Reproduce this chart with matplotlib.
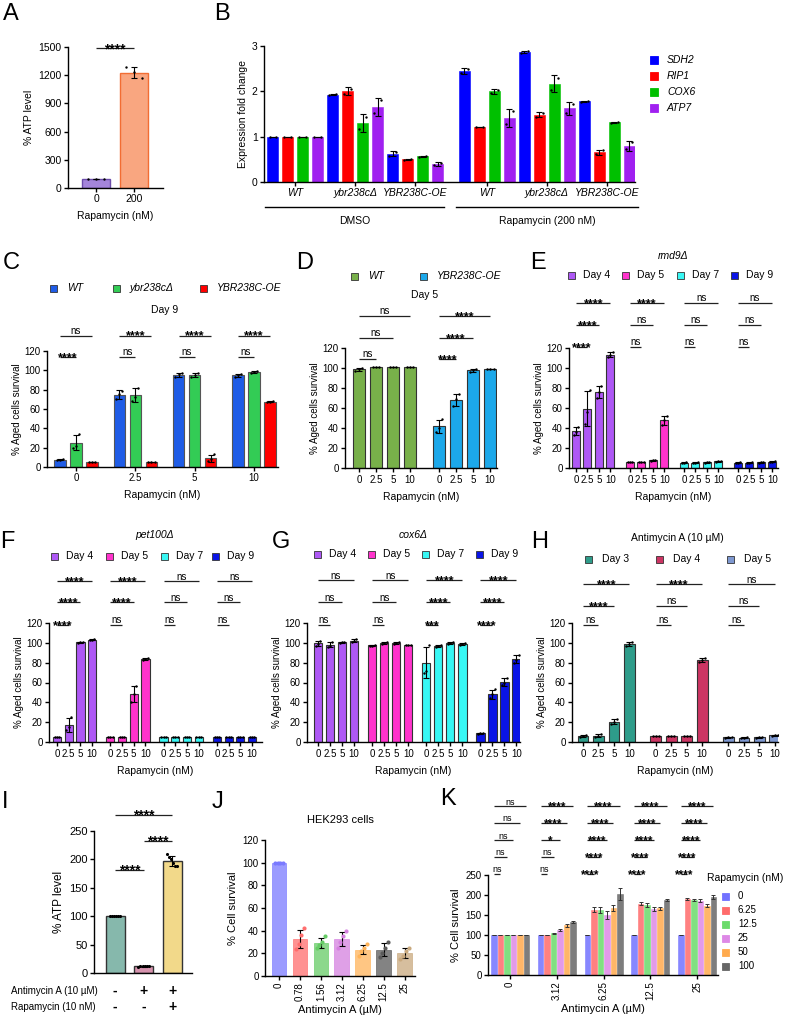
import numpy as np
import matplotlib
matplotlib.use('Agg')
import matplotlib.pyplot as plt
from matplotlib.patches import Rectangle
from matplotlib.transforms import blended_transform_factory

plt.rcParams['font.family'] = ['Liberation Sans', 'DejaVu Sans']

# ======================= DATA =======================
A_doses = ['0', '200']
A_reps = [[100, 100, 100], [1290, 1230, 1165]]
A_sig = '****'

B_genotypes = ['WT', 'ybr238cΔ', 'YBR238C-OE', 'WT', 'ybr238cΔ', 'YBR238C-OE']
B_treatments = ['DMSO', 'Rapamycin (200 nM)']
B_genes = ['SDH2', 'RIP1', 'COX6', 'ATP7']
B_SDH2 = [[1.0, 1.0], [1.92, 1.94], [0.58, 0.66], [2.40, 2.50], [2.85, 2.89], [1.77, 1.79]]
B_RIP1 = [[1.0, 1.0], [1.94, 2.06], [0.49, 0.51], [1.22, 1.22], [1.44, 1.52], [0.62, 0.70]]
B_COX6 = [[1.0, 1.0], [1.16, 1.44], [0.56, 0.58], [1.96, 2.04], [2.04, 2.30], [1.31, 1.33]]
B_ATP7 = [[1.0, 1.0], [1.52, 1.80], [0.37, 0.43], [1.28, 1.56], [1.53, 1.73], [0.72, 0.88]]

rapa_doses = ['0', '2.5', '5', '10']

C_genotypes = ['WT', 'ybr238cΔ', 'YBR238C-OE']
C_WT = [[7, 7, 8], [70, 76, 79], [93, 96, 97], [93, 95, 96]]
C_ybr = [[20, 22, 34], [68, 72, 82], [93, 95, 97], [97, 98, 99]]
C_OE = [[5, 5, 5], [5, 5, 5], [6, 8, 13], [67, 67, 68]]
C_sig = [['ns', '****', '****', '****'], ['****', 'ns', 'ns', 'ns']]

D_genotypes = ['WT', 'YBR238C-OE']
D_WT = [[97, 99, 100], [101, 101, 101], [101, 101, 101], [101, 101, 101]]
D_OE = [[36, 40, 49], [62, 69, 74], [96, 98, 99], [99, 99, 99]]
D_sig = [['ns', '****'], ['ns', '****'], ['ns', '****']]

days4 = ['Day 4', 'Day 5', 'Day 7', 'Day 9']
E_day4 = [[33, 36, 41], [44, 56, 78], [70, 76, 82], [111, 113, 116]]
E_day5 = [[6, 6, 6], [6, 6, 6], [7, 8, 8], [43, 48, 52]]
E_day7 = [[5, 5, 6], [5, 5, 6], [5, 6, 6], [6, 7, 7]]
E_day9 = [[5, 5, 6], [5, 5, 6], [5, 6, 6], [6, 6, 7]]
E_sig = [['****', '****', 'ns', 'ns'], ['****', 'ns', 'ns', 'ns'], ['****', 'ns', 'ns', 'ns']]

F_day4 = [[5, 5, 5], [12, 15, 25], [100, 101, 101], [103, 103, 104]]
F_day5 = [[5, 5, 5], [5, 5, 5], [40, 48, 56], [83, 84, 85]]
F_day7 = [[5, 5, 5], [5, 5, 5], [5, 5, 5], [5, 5, 5]]
F_day9 = [[5, 5, 5], [5, 5, 5], [5, 5, 5], [5, 5, 5]]
F_sig = [['****', '****', 'ns', 'ns'], ['****', '****', 'ns', 'ns'], ['****', 'ns', 'ns', 'ns']]

G_day4 = [[97, 99, 102], [96, 97, 101], [100, 101, 101], [101, 102, 104]]
G_day5 = [[97, 97, 98], [99, 100, 101], [99, 100, 101], [98, 98, 98]]
G_day7 = [[70, 72, 98], [96, 97, 98], [99, 100, 101], [98, 99, 100]]
G_day9 = [[8, 9, 9], [44, 48, 53], [57, 60, 65], [80, 83, 88]]
G_sig = [['ns', 'ns', '****', '****'], ['ns', 'ns', '****', '****'], ['ns', 'ns', '***', '****']]

days3 = ['Day 3', 'Day 4', 'Day 5']
H_day3 = [[5, 6, 7], [5, 6, 8], [18, 20, 23], [97, 99, 101]]
H_day4 = [[6, 6, 6], [6, 6, 6], [6, 6, 6], [81, 83, 85]]
H_day5 = [[4, 5, 5], [4, 4, 5], [4, 5, 5], [6, 7, 7]]
H_sig = [['****', '****', 'ns'], ['****', 'ns', 'ns'], ['ns', 'ns', 'ns']]

I_reps = [[100, 100, 100, 100, 100, 100], [11, 12, 12, 12, 12, 12], [210, 205, 200, 193, 188, 188]]
I_antimycin = ['-', '+', '+']
I_rapamycin = ['-', '-', '+']

J_doses = ['0', '0.78', '1.56', '3.12', '6.25', '12.5', '25']
J_reps = [[100, 100, 100, 100], [24, 28, 36, 42], [25, 27, 30, 35], [25, 30, 35, 40],
          [18, 22, 25, 28], [17, 20, 25, 30], [15, 18, 22, 25]]

K_antimycin = ['0', '3.12', '6.25', '12.5', '25']
K_rapa = ['0', '6.25', '12.5', '25', '50', '100']
K_r0 = [100, 100, 100, 100, 100]
K_r6 = [100, 100, 163, 178, 190]
K_r12 = [100, 104, 162, 175, 188]
K_r25 = [100, 113, 150, 165, 186]
K_r50 = [100, 124, 168, 167, 173]
K_r100 = [100, 132, 203, 187, 195]
K_e0 = [0, 0, 0, 0, 0]
K_e6 = [0, 1, 6, 4, 3]
K_e12 = [0, 2, 8, 5, 3]
K_e25 = [0, 2, 10, 5, 3]
K_e50 = [0, 3, 8, 4, 4]
K_e100 = [0, 3, 15, 3, 4]
K_sig = [['ns', '****', '****', '****', '****'],
         ['ns', '****', '****', '****', '****'],
         ['ns', '*', '****', '****', '****'],
         ['ns', 'ns', '****', '****', '****'],
         ['ns', 'ns', '****', '****', '****']]

# ======================= STYLE =======================
A_colors = ['#A485DA', '#F9A680']
A_edges = ['#6C4DAA', '#F26D33']
B_colors = ['#0000FF', '#FF0000', '#00C000', '#A020F0']
C_colors = ['#1F5CE6', '#33CC55', '#FF0000']
D_colors = ['#78B04A', '#1CA8EA']
day_colors = ['#AE58F5', '#FF33CC', '#38F7F4', '#0A14E6']
H_colors = ['#2E9C8A', '#CC3563', '#7E98D0']
I_colors = ['#86B8AC', '#D693AE', '#F2D98A']
J_colors = ['#7A7AFF', '#FF6E6E', '#66CC66', '#D580E0', '#FFB45A', '#5A5A5A', '#C9A97E']
K_colors = ['#7272FF', '#FF6B6B', '#6BDB6B', '#DD88E6', '#FFAA4D', '#666666']

W, H = 787, 1025
fig = plt.figure(figsize=(W / 100, H / 100), dpi=100)
FS = 7


def px_ax(x0, y0, x1, y1):
    return fig.add_axes([x0 / W, 1 - y1 / H, (x1 - x0) / W, (y1 - y0) / H])


def ftext(x, y, s, **kw):
    kw.setdefault('fontsize', FS)
    return fig.text(x / W, 1 - y / H, s, **kw)


def letter(x, y, s):
    ftext(x, y, s, fontsize=17, ha='left', va='center')


def legend_item(x, y, color, label, italic=False, size=7, fs=7.5, ec='#333333', gap=8):
    fig.add_artist(Rectangle((x / W, 1 - (y + size / 2) / H), size / W, size / H,
                             transform=fig.transFigure, facecolor=color, edgecolor=ec, lw=0.6))
    ftext(x + size + gap, y, label, va='center', ha='left', fontsize=fs,
          style='italic' if italic else 'normal')


def style(ax, fs=FS):
    ax.spines['top'].set_visible(False)
    ax.spines['right'].set_visible(False)
    for s in ['left', 'bottom']:
        ax.spines[s].set_linewidth(1.0)
    ax.tick_params(axis='both', labelsize=fs, length=3, width=1.0, pad=1.5)
    ax.patch.set_alpha(0)


def draw_bars(ax, xs, reps, color, width, ec='#333333', lw=0.8, dot='black', alpha=1.0, ds=3):
    means = [np.mean(r) for r in reps]
    sds = [np.std(r, ddof=1) if len(r) > 1 else 0 for r in reps]
    cont = ax.bar(xs, means, width, color=color, edgecolor=ec, linewidth=lw, zorder=2, alpha=alpha)
    ax.errorbar(xs, means, yerr=sds, fmt='none', ecolor='black', elinewidth=0.8,
                capsize=2, capthick=0.8, zorder=3)
    for x, r in zip(xs, reps):
        offs = np.linspace(-width * 0.28, width * 0.28, len(r))
        ax.scatter(x + offs, r, s=ds, color=dot, zorder=4, lw=0)
    return cont


def sig(ax, x1, x2, y, label, fs=7, sfs=None):
    ax.plot([x1, x2], [y, y], color='#222222', lw=0.9, clip_on=False, solid_capstyle='butt')
    if '*' in label:
        s = sfs if sfs else fs + 2
        ax.annotate(label, (0.5 * (x1 + x2), y), xytext=(0, -0.33 * s), textcoords='offset points',
                    ha='center', va='baseline', fontsize=s, fontweight='bold', annotation_clip=False)
    else:
        ax.annotate(label, (0.5 * (x1 + x2), y), xytext=(0, 1.2), textcoords='offset points',
                    ha='center', va='baseline', fontsize=fs, annotation_clip=False)


def day_panel(ax, groups, colors, stride, xlim, sig_rows, sig_y, ylabel='% Aged cells survival'):
    xs_all, labels = [], []
    for g, (reps, col) in enumerate(zip(groups, colors)):
        xs = [g * stride + i for i in range(len(reps))]
        draw_bars(ax, xs, reps, col, 0.7)
        xs_all += xs
        labels += rapa_doses
        for k, row in enumerate(sig_rows):
            sig(ax, xs[0], xs[len(reps) - 1 - k], sig_y[k], row[g])
    ax.set_xticks(xs_all)
    ax.set_xticklabels(labels)
    ax.set_xlim(*xlim)
    ax.set_ylim(0, 120)
    ax.set_yticks(range(0, 121, 20))
    ax.set_ylabel(ylabel, fontsize=FS, labelpad=2)
    ax.set_xlabel('Rapamycin (nM)', fontsize=7.5, labelpad=5)
    style(ax)
    ax.tick_params(axis='x', length=3, pad=2)


# ======================= A =======================
axA = px_ax(68, 47, 163, 188)
for i, reps in enumerate(A_reps):
    draw_bars(axA, [i], [reps], A_colors[i], 0.74, ec=A_edges[i], lw=1.0)
axA.set_xlim(-0.74, 1.76)
axA.set_ylim(0, 1500)
axA.set_yticks(range(0, 1501, 300))
axA.set_xticks([0, 1])
axA.set_xticklabels(A_doses)
axA.set_ylabel('% ATP level', fontsize=7.5, labelpad=3)
axA.set_xlabel('Rapamycin (nM)', fontsize=7.5, labelpad=5)
style(axA, 7.5)
sig(axA, 0, 1, 1485, A_sig, fs=8, sfs=10)
letter(3, 14, 'A')

# ======================= B =======================
axB = px_ax(264, 46, 635, 182)
B_series = [B_SDH2, B_RIP1, B_COX6, B_ATP7]
B_centers = [0, 1, 2, 3.2, 4.2, 5.2]
B_offsets = [-0.375, -0.125, 0.125, 0.375]
for k, (series, col) in enumerate(zip(B_series, B_colors)):
    xs = [c + B_offsets[k] for c in B_centers]
    draw_bars(axB, xs, series, col, 0.19, ec=col, lw=0.4)
axB.set_xlim(-0.52, 5.67)
axB.set_ylim(0, 3)
axB.set_yticks([0, 1, 2, 3])
axB.set_xticks(B_centers)
axB.set_xticklabels(B_genotypes, style='italic', fontsize=7.5)
axB.set_ylabel('Expression fold change', fontsize=7.5, labelpad=3)
style(axB, 7.5)
trB = blended_transform_factory(axB.transData, axB.transAxes)
for (a, b), lab in zip([(-0.5, 2.48), (2.68, 5.72)], B_treatments):
    axB.plot([a, b], [-0.185, -0.185], color='black', lw=1.0, transform=trB, clip_on=False)
    axB.text((a + b) / 2, -0.25, lab, transform=trB, ha='center', va='top', fontsize=7.5)
for k, g in enumerate(B_genes):
    legend_item(650, 60 + 16 * k, B_colors[k], g, italic=True, size=8, ec=B_colors[k], gap=9)
letter(214, 14, 'B')

# ======================= C =======================
axC = px_ax(47, 351, 278, 467)
C_series = [C_WT, C_ybr, C_OE]
stride_C = 3.7
for i, (series, col) in enumerate(zip(C_series, C_colors)):
    xs = [g * stride_C + i for g in range(4)]
    draw_bars(axC, xs, series, col, 0.7, ec='#555555')
for g in range(4):
    sig(axC, g * stride_C, g * stride_C + 2, 136, C_sig[0][g])
    sig(axC, g * stride_C, g * stride_C + 1, 114, C_sig[1][g])
axC.set_xlim(-0.81, 13.6)
axC.set_ylim(0, 120)
axC.set_yticks(range(0, 121, 20))
axC.set_xticks([g * stride_C + 1 for g in range(4)])
axC.set_xticklabels(rapa_doses)
axC.set_ylabel('% Aged cells survival', fontsize=FS, labelpad=2)
axC.set_xlabel('Rapamycin (nM)', fontsize=7.5, labelpad=5)
style(axC)
ftext(165, 310, 'Day 9', ha='center', va='center', fontsize=7.5)
for x, col, lab in zip([50, 113, 200], C_colors, C_genotypes):
    legend_item(x, 288, col, lab, italic=True, gap=10)
letter(3, 263, 'C')

# ======================= D =======================
axD = px_ax(345, 348, 497, 468)
day_panel(axD, [D_WT, D_OE], D_colors, 4.7, (-0.81, 8.1), D_sig, [152, 130, 109])
ftext(425, 295, 'Day 5', ha='center', va='center', fontsize=7.5)
for x, col, lab in zip([351, 420], D_colors, D_genotypes):
    legend_item(x, 276, col, lab, italic=True, gap=10)
letter(296, 263, 'D')

# ======================= E =======================
axE = px_ax(569, 348, 778, 468)
day_panel(axE, [E_day4, E_day5, E_day7, E_day9], day_colors, 4.7, (-0.61, 17.6), E_sig, [165, 143, 121])
ftext(673, 256, 'rmd9Δ', ha='center', va='center', fontsize=7.5, style='italic')
for x, col, lab in zip([568, 622, 677, 731], day_colors, days4):
    legend_item(x, 275, col, lab)
letter(530, 263, 'E')

# ======================= F =======================
axF = px_ax(49, 623, 262, 742)
day_panel(axF, [F_day4, F_day5, F_day7, F_day9], day_colors, 4.55, (-0.68, 17.5), F_sig, [162, 141, 118])
ftext(155, 535, 'pet100Δ', ha='center', va='center', fontsize=7.5, style='italic')
for x, col, lab in zip([51, 106, 161, 212], day_colors, days4):
    legend_item(x, 556, col, lab)
letter(0, 542, 'F')

# ======================= G =======================
axG = px_ax(307, 623, 520, 742)
day_panel(axG, [G_day4, G_day5, G_day7, G_day9], day_colors, 4.5, (-0.92, 16.8), G_sig, [163, 141, 118])
ftext(413, 535, 'cox6Δ', ha='center', va='center', fontsize=7.5, style='italic')
for x, col, lab in zip([314, 368, 422, 476], day_colors, days4):
    legend_item(x, 554, col, lab)
letter(272, 542, 'G')

# ======================= H =======================
axH = px_ax(572, 623, 778, 742)
day_panel(axH, [H_day3, H_day4, H_day5], H_colors, 4.7, (-0.71, 12.6), H_sig, [159, 137, 118])
ftext(677, 538, 'Antimycin A (10 µM)', ha='center', va='center', fontsize=7.5)
for x, col, lab in zip([585, 656, 727], H_colors, days3):
    legend_item(x, 559, col, lab, gap=10)
letter(531, 542, 'H')

# ======================= I =======================
axI = px_ax(94, 831, 192, 973)
for i, reps in enumerate(I_reps):
    draw_bars(axI, [i], [reps], I_colors[i], 0.67, ec='#333333', lw=1.0, ds=5)
axI.set_xlim(-0.74, 2.7)
axI.set_ylim(0, 250)
axI.set_yticks(range(0, 251, 50))
axI.set_xticks([])
axI.set_ylabel('% ATP level', fontsize=8.5, labelpad=3)
style(axI, 8)
sig(axI, 0, 1, 181, '****', fs=8, sfs=10)
sig(axI, 1, 2, 233, '****', fs=8, sfs=10)
sig(axI, 0, 2, 279, '****', fs=8, sfs=10)
trI = blended_transform_factory(axI.transData, axI.transAxes)
for i in range(3):
    axI.text(i, -0.127, I_antimycin[i], transform=trI, ha='center', va='center', fontsize=10, fontweight='bold')
    axI.text(i, -0.24, I_rapamycin[i], transform=trI, ha='center', va='center', fontsize=10, fontweight='bold')
ftext(11, 991, 'Antimycin A (10 µM)', ha='left', va='center', fontsize=7)
ftext(11, 1007, 'Rapamycin (10 nM)', ha='left', va='center', fontsize=7)
letter(2, 802, 'I')

# ======================= J =======================
axJ = px_ax(265, 840, 415, 976)
for i, reps in enumerate(J_reps):
    draw_bars(axJ, [i], [reps], J_colors[i], 0.7, ec=J_colors[i], lw=0.6, dot=J_colors[i], alpha=0.75, ds=9)
axJ.set_xlim(-0.67, 6.5)
axJ.set_ylim(0, 120)
axJ.set_yticks(range(0, 121, 20))
axJ.set_xticks(range(len(J_doses)))
axJ.set_xticklabels(J_doses, rotation=90)
axJ.set_ylabel('% Cell survival', fontsize=8, labelpad=3)
axJ.set_xlabel('Antimycin A (µM)', fontsize=8, labelpad=3)
style(axJ)
ftext(340, 820, 'HEK293 cells', ha='center', va='center', fontsize=8)
letter(212, 802, 'J')

# ======================= K =======================
axK = px_ax(488, 875, 718, 975)
K_means = [K_r0, K_r6, K_r12, K_r25, K_r50, K_r100]
K_errs = [K_e0, K_e6, K_e12, K_e25, K_e50, K_e100]
stride_K = 7.2
for r, (m, e, col) in enumerate(zip(K_means, K_errs, K_colors)):
    xs = [g * stride_K + r for g in range(len(K_antimycin))]
    axK.bar(xs, m, 0.85, color=col, alpha=0.85, edgecolor=col, lw=0.4, zorder=2)
    axK.errorbar(xs, m, yerr=e, fmt='none', ecolor='#333333', elinewidth=0.7, capsize=1.5, capthick=0.7, zorder=3)
for k, row in enumerate(K_sig):
    yk = [422, 380, 337, 295, 253][k]
    for g in range(len(K_antimycin)):
        sig(axK, g * stride_K, g * stride_K + 5 - k, yk, row[g], fs=6.5, sfs=8.5)
axK.set_xlim(-0.9, 34.5)
axK.set_ylim(0, 250)
axK.set_yticks(range(0, 251, 50))
axK.set_xticks([g * stride_K + 2.5 for g in range(len(K_antimycin))])
axK.set_xticklabels(K_antimycin, rotation=90)
axK.set_ylabel('% Cell survival', fontsize=8, labelpad=3)
axK.set_xlabel('Antimycin A (µM)', fontsize=8, labelpad=3)
style(axK)
ftext(745, 878, 'Rapamycin (nM)', ha='center', va='center', fontsize=7.5)
for k, (col, lab) in enumerate(zip(K_colors, K_rapa)):
    legend_item(722, 896 + 14 * k, col, lab, ec=col, gap=9, fs=7)
letter(440, 799, 'K')

fig.savefig('out.png', dpi=100)
